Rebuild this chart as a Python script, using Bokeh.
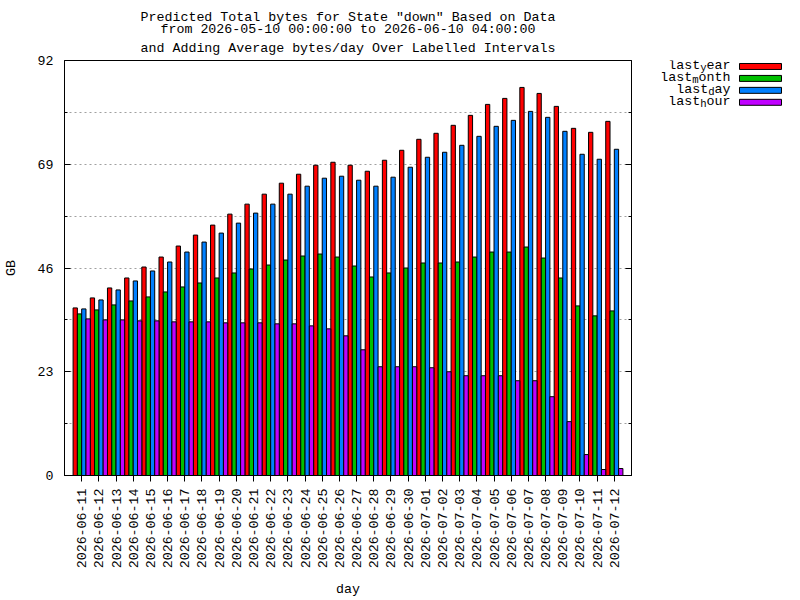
import math

from bokeh.core.properties import value
from bokeh.embed import file_html
from bokeh.layouts import row
from bokeh.models import (ColumnDataSource, FixedTicker, LinearAxis, Range1d,
                          Title)
from bokeh.plotting import figure
from bokeh.resources import INLINE
from bokeh.transform import dodge

# Predicted daily totals (GB) per forecast day
days = [
    "2026-06-11", "2026-06-12", "2026-06-13", "2026-06-14", "2026-06-15",
    "2026-06-16", "2026-06-17", "2026-06-18", "2026-06-19", "2026-06-20",
    "2026-06-21", "2026-06-22", "2026-06-23", "2026-06-24", "2026-06-25",
    "2026-06-26", "2026-06-27", "2026-06-28", "2026-06-29", "2026-06-30",
    "2026-07-01", "2026-07-02", "2026-07-03", "2026-07-04", "2026-07-05",
    "2026-07-06", "2026-07-07", "2026-07-08", "2026-07-09", "2026-07-10",
    "2026-07-11", "2026-07-12",
]
last_year = [37.15, 39.37, 41.58, 43.79, 46.22, 48.43, 50.87, 53.30, 55.51, 57.94,
             60.16, 62.37, 64.80, 66.79, 68.78, 69.44, 68.78, 67.45, 69.89, 72.10,
             74.53, 75.86, 77.63, 79.84, 82.27, 83.60, 86.03, 84.70, 81.83, 76.96,
             76.08, 78.51]
last_month = [35.83, 36.71, 37.82, 38.70, 39.59, 40.69, 41.80, 42.68, 43.79, 44.90,
              45.78, 46.66, 47.77, 48.66, 49.10, 48.43, 46.44, 44.01, 44.90, 46.00,
              47.11, 47.11, 47.33, 48.43, 49.54, 49.54, 50.65, 48.21, 43.79, 37.60,
              35.39, 36.49]
last_day = [36.93, 38.92, 41.14, 43.13, 45.34, 47.33, 49.54, 51.75, 53.74, 55.95,
            58.17, 60.16, 62.37, 64.14, 65.91, 66.35, 65.46, 64.14, 66.13, 68.34,
            70.55, 71.66, 73.20, 75.19, 77.41, 78.73, 80.72, 79.40, 76.30, 71.21,
            70.11, 72.32]
last_hour = [34.72, 34.50, 34.50, 34.28, 34.28, 34.06, 34.06, 34.06, 33.84, 33.84,
             33.84, 33.62, 33.62, 33.17, 32.51, 30.96, 27.87, 24.11, 24.11, 24.11,
             23.89, 23.00, 22.12, 22.12, 22.12, 21.01, 21.01, 17.47, 11.94, 4.64,
             1.33, 1.55]

y_ticks = [0, 23, 46, 69, 92]
y_minor = [11.5, 34.5, 57.5, 80.5]

title_lines = [
    'Predicted Total bytes for State "down" Based on Data',
    "from 2026-05-10 00:00:00 to 2026-06-10 04:00:00",
    "and Adding Average bytes/day Over Labelled Intervals",
]

# legend names are drawn as prefix + subscript + rest
legend_parts = [("last", "y", "ear"), ("last", "m", "onth"),
                ("last", "d", "ay"), ("last", "h", "our")]
columns = ["last_year", "last_month", "last_day", "last_hour"]
colors = ["#ff0000", "#00c000", "#0080ff", "#c000ff"]

FONT = "Liberation Mono"
FS = 13.3
CHAR_W = 0.6 * FS
SUB_FS = 0.8 * FS
SUB_W = 0.6 * SUB_FS

MAIN_W = 655   # canvas width of the chart itself
LEG_W = 800 - MAIN_W
H = 600
FRAME_TOP, FRAME_BOTTOM = 60, 477

source = ColumnDataSource(dict(
    x=list(range(len(days))),
    last_year=last_year,
    last_month=last_month,
    last_day=last_day,
    last_hour=last_hour,
))

p = figure(
    width=MAIN_W, height=H,
    x_range=Range1d(-1, len(days)), y_range=Range1d(0, 92),
    output_backend="svg", toolbar_location=None, tools="",
    min_border_left=62, min_border_right=MAIN_W - 631,
    min_border_top=FRAME_TOP, min_border_bottom=H - FRAME_BOTTOM,
)
p.title.visible = False
p.background_fill_color = "white"
p.border_fill_color = "white"
p.outline_line_color = "black"
p.outline_line_width = 1

xax = p.below[0]
yax = p.left[0]

offsets = [-0.375, -0.125, 0.125, 0.375]
for col, color, off in zip(columns, colors, offsets):
    p.vbar(x=dodge("x", off, range=p.x_range), top=col, width=0.25, bottom=0,
           source=source, fill_color=color, line_color="black", line_width=1)

# title lines, stacked outward from the frame (last line added first);
# the negative standoff tightens the spacing of the upper lines
for i, line in enumerate(reversed(title_lines)):
    p.add_layout(Title(
        text=line, align="center", text_font=FONT,
        text_font_size=f"{FS}px", text_font_style="normal", text_color="black",
        standoff=9 if i == 0 else -5,
    ), "above")

# y axis (left) with inward ticks
yax.ticker = FixedTicker(ticks=y_ticks, minor_ticks=y_minor)
yax.major_tick_in = 6
yax.major_tick_out = 0
yax.minor_tick_in = 3
yax.minor_tick_out = 0
yax.major_label_standoff = 11
yax.major_label_text_font = FONT
yax.major_label_text_font_size = f"{FS}px"
yax.major_label_text_color = "black"
yax.axis_line_color = "black"
yax.axis_label = "GB"
yax.axis_label_text_font = FONT
yax.axis_label_text_font_size = f"{FS}px"
yax.axis_label_text_font_style = "normal"
yax.axis_label_text_color = "black"
yax.axis_label_standoff = 16

# mirrored ticks on the right, without labels
rax = LinearAxis(ticker=FixedTicker(ticks=y_ticks, minor_ticks=y_minor))
rax.major_tick_in = 6
rax.major_tick_out = 0
rax.minor_tick_in = 3
rax.minor_tick_out = 0
rax.major_label_text_color = None
rax.major_label_standoff = 0
rax.axis_line_color = "black"
p.add_layout(rax, "right")

# x axis with day labels
xax.ticker = FixedTicker(ticks=list(range(len(days))))
xax.major_label_overrides = {i: d for i, d in enumerate(days)}
xax.major_label_orientation = math.pi / 2
xax.major_tick_in = 0
xax.major_tick_out = 6
xax.minor_tick_line_color = None
xax.major_label_standoff = 7
xax.major_label_text_font = FONT
xax.major_label_text_font_size = f"{FS}px"
xax.major_label_text_color = "black"
xax.axis_line_color = "black"
xax.axis_label = "day"
xax.axis_label_text_font = FONT
xax.axis_label_text_font_size = f"{FS}px"
xax.axis_label_text_font_style = "normal"
xax.axis_label_text_color = "black"
xax.axis_label_standoff = 11

# dotted horizontal grid
p.xgrid.visible = False
p.ygrid.ticker = FixedTicker(ticks=[11.5, 23, 34.5, 46, 57.5, 69, 80.5])
p.ygrid.grid_line_color = "#a0a0a0"
p.ygrid.grid_line_dash = "2 3"
p.ygrid.grid_line_width = 1

# key panel to the right; its frame lines up with the chart frame,
# so its ranges are expressed in page pixels
leg = figure(
    width=LEG_W, height=H,
    x_range=Range1d(MAIN_W, 800), y_range=Range1d(FRAME_BOTTOM, FRAME_TOP),
    output_backend="svg", toolbar_location=None, tools="",
    x_axis_location=None, y_axis_location=None,
    min_border_left=0, min_border_right=0,
    min_border_top=FRAME_TOP, min_border_bottom=H - FRAME_BOTTOM,
)
leg.title.visible = False
leg.outline_line_color = None
leg.grid.visible = False
leg.background_fill_color = "white"
leg.border_fill_color = "white"

text_right = 730
rows_y = [65 + 12 * i for i in range(len(legend_parts))]
rest_x, rest_t, sub_x, sub_t, pre_x, pre_t = [], [], [], [], [], []
for (pre, sub, rest) in legend_parts:
    rest_x.append(text_right)
    rest_t.append(rest)
    sx = text_right - CHAR_W * len(rest)
    sub_x.append(sx)
    sub_t.append(sub)
    pre_x.append(sx - SUB_W * len(sub))
    pre_t.append(pre)

common = dict(text_font=value(FONT), text_align="right",
              text_baseline="middle", text_color="black")
leg.text(x=rest_x, y=rows_y, text=rest_t, text_font_size=value(f"{FS}px"), **common)
leg.text(x=pre_x, y=rows_y, text=pre_t, text_font_size=value(f"{FS}px"), **common)
leg.text(x=sub_x, y=[y + 3 for y in rows_y], text=sub_t,
         text_font_size=value(f"{SUB_FS:.2f}px"), **common)

sw_y = [66 + 12 * i for i in range(len(colors))]
leg.quad(left=739, right=781, top=[y - 3 for y in sw_y], bottom=[y + 3 for y in sw_y],
         fill_color=colors, line_color="black", line_width=1)

layout = row(p, leg, spacing=0)
open("out.html", "w").write(file_html(layout, INLINE))
